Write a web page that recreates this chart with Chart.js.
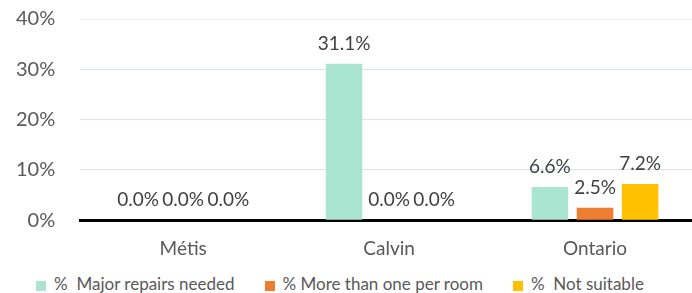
<!DOCTYPE html>
<html>
<head>
<meta charset="utf-8">
<script src="https://cdn.jsdelivr.net/npm/chart.js@4/dist/chart.umd.min.js"></script>
<style>
  html, body { margin: 0; padding: 0; background: #fff; overflow: hidden; }
  #wrap { position: relative; width: 692px; height: 293px; overflow: hidden; }
  #plot { position: absolute; left: -23px; top: -18px; width: 721px; height: 287px; }
  #legend {
    position: absolute; left: -6px; top: 274px; width: 692px; height: 18px;
    display: flex; justify-content: center; align-items: center; gap: 30px;
    font: 17px Lato; color: #595959; white-space: pre;
  }
  #legend span.box { display: inline-block; width: 10px; height: 10px; margin-right: 8px; vertical-align: -1px; }
</style>
</head>
<body>
<div id="wrap">
  <div id="plot"><canvas id="housingChart"></canvas></div>
  <div id="legend"></div>
</div>
<script>
const categories = ["Métis", "Calvin", "Ontario"];
const majorRepairs = [0.0, 31.1, 6.6];
const moreThanOnePerRoom = [0.0, 0.0, 2.5];
const notSuitable = [0.0, 0.0, 7.2];
const seriesNames = ["%  Major repairs needed", "% More than one per room", "%  Not suitable"];
const seriesColors = ["#a9e5d1", "#ed7d31", "#ffc000"];
const yTicks = [0, 10, 20, 30, 40];

// draws the value over each bar, like the spreadsheet data labels
const valueLabels = {
    id: "valueLabels",
    afterDatasetsDraw(chart) {
        const ctx = chart.ctx;
        ctx.save();
        ctx.font = "19px Lato";
        ctx.fillStyle = "#404040";
        ctx.textAlign = "center";
        ctx.textBaseline = "alphabetic";
        chart.data.datasets.forEach((ds, i) => {
            chart.getDatasetMeta(i).data.forEach((bar, j) => {
                ctx.fillText(ds.data[j].toFixed(1) + "%", bar.x, bar.y - 14);
            });
        });
        ctx.restore();
    }
};

// legend below the canvas, built from the chart's own legend items
const htmlLegend = {
    id: "htmlLegend",
    afterUpdate(chart) {
        const box = document.getElementById("legend");
        box.innerHTML = "";
        Chart.defaults.plugins.legend.labels.generateLabels(chart).forEach(item => {
            const el = document.createElement("div");
            const sw = document.createElement("span");
            sw.className = "box";
            sw.style.background = item.fillStyle;
            el.appendChild(sw);
            el.appendChild(document.createTextNode(item.text));
            box.appendChild(el);
        });
    }
};

new Chart(document.getElementById("housingChart"), {
    type: "bar",
    data: {
        labels: categories,
        datasets: seriesNames.map((name, i) => ({
            label: name,
            data: [majorRepairs, moreThanOnePerRoom, notSuitable][i],
            backgroundColor: seriesColors[i]
        }))
    },
    options: {
        responsive: true,
        maintainAspectRatio: false,
        animation: false,
        layout: { padding: { left: 14, right: 0, top: -3, bottom: 0 } },
        datasets: { bar: { categoryPercentage: 0.657, barPercentage: 0.81 } },
        scales: {
            x: {
                grid: { display: false },
                border: { color: "#000", width: 3 },
                ticks: { color: "#595959", font: { family: "Lato", size: 19 }, padding: 9 }
            },
            y: {
                min: 0,
                max: 40,
                afterBuildTicks: axis => { axis.ticks = yTicks.map(v => ({ value: v })); },
                grid: {
                    color: c => c.tick && c.tick.value === 40 ? "#eef3fa" : "#d6e4f3",
                    lineWidth: 1,
                    drawTicks: false
                },
                border: { display: false },
                ticks: {
                    color: "#595959",
                    font: { family: "Lato", size: 20 },
                    padding: 25,
                    callback: v => v + "%"
                }
            }
        },
        plugins: {
            legend: { display: false },
            tooltip: { enabled: false }
        }
    },
    plugins: [valueLabels, htmlLegend]
});
</script>
</body>
</html>
